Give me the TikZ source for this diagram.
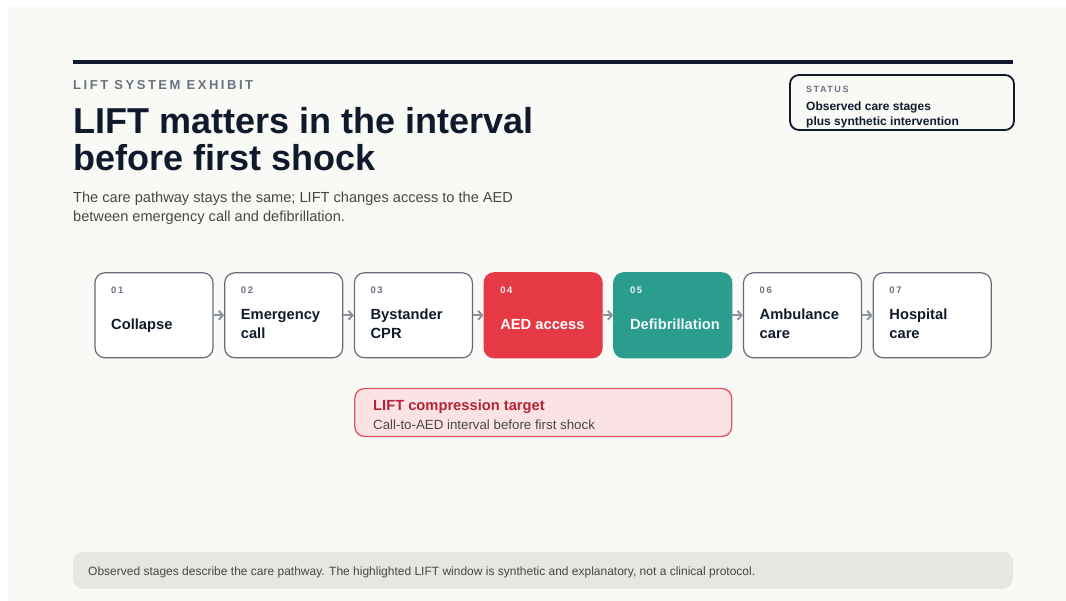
\documentclass[tikz,border=0pt]{standalone}
\usepackage{fontspec}
\setmainfont{Liberation Sans}
\newfontfamily\spacedfont[LetterSpace=17]{Liberation Sans}
\newfontfamily\widefont[LetterSpace=19.5]{Liberation Sans}
\usetikzlibrary{arrows.meta}
\definecolor{pagebg}{HTML}{F9F9F5}
\definecolor{navy}{HTML}{0F1B2D}
\definecolor{labelgray}{HTML}{6B7280}
\definecolor{boxgray}{HTML}{666C7A}
\definecolor{arrowgray}{HTML}{8E949E}
\definecolor{aedred}{HTML}{E63946}
\definecolor{defibteal}{HTML}{2A9D8F}
\definecolor{paletext}{HTML}{EEF6F4}
\definecolor{pinkfill}{HTML}{FBE3E5}
\definecolor{pinkline}{HTML}{E35462}
\definecolor{crimson}{HTML}{B42334}
\definecolor{bodygray}{HTML}{474747}
\definecolor{footfill}{HTML}{E7E6E1}
\begin{document}
\begin{tikzpicture}
[x=1pt,y=-1pt,
 stagedecorate/.style={shape=rectangle,rounded corners=10pt,inner sep=0pt,
   minimum width=118pt,minimum height=85pt,line width=1.2pt},%
 numdecorate/.style={anchor=base west,inner sep=0pt,
   font=\spacedfont\bfseries\fontsize{9.5}{11}\selectfont},%
 namedecorate/.style={anchor=base west,inner sep=0pt,align=left,
   font=\bfseries\fontsize{14.7}{18.5}\selectfont},%
 textdecorate/.style={anchor=base west,inner sep=0pt,align=left},%
 linedecorate/.style={-{Straight Barb[length=4pt,width=9pt]},line width=2pt,draw=arrowgray}]
\useasboundingbox (0,0) rectangle (1066,601);
\fill[pagebg] (8,7) rectangle (1066,601);
%% header (base of a wrapped text = its last line)
\fill[navy] (73,60) rectangle (1013,64);
\node (kicker) at (73,89.5) [textdecorate,text=labelgray,
  font=\widefont\bfseries\fontsize{13}{15}\selectfont] {LIFT SYSTEM EXHIBIT};
\node (title) at (73,170.5) [textdecorate,text=navy,
  font=\bfseries\fontsize{36}{36.5}\selectfont] {LIFT matters in the interval\\before first shock};
\node (intro) at (73,222) [textdecorate,text=bodygray,
  font=\fontsize{14.6}{19.4}\selectfont] {The care pathway stays the same; LIFT changes access to the AED\\between emergency call and defibrillation.};
%% status
\node (status) at (902,102.5) [shape=rectangle,rounded corners=9pt,draw=navy,line width=1.8pt,
  minimum width=224pt,minimum height=55pt] {};
\node (statuskey) at (806,93) [textdecorate,text=labelgray,
  font=\spacedfont\bfseries\fontsize{9}{11}\selectfont] {STATUS};
\node (statustext) at (806,125.3) [textdecorate,text=navy,
  font=\bfseries\fontsize{12}{14.3}\selectfont] {Observed care stages\\plus synthetic intervention};
%% stages
\foreach \nodename/\x/\num/\fillcol/\drawcol/\textcol/\numcol/\y/\label in
 {Collapse/95/01/white/boxgray/navy/labelgray/330/Collapse,
  Call/224.7/02/white/boxgray/navy/labelgray/338.5/{Emergency\\call},
  CPR/354.4/03/white/boxgray/navy/labelgray/338.5/{Bystander\\CPR},
  AED/484.1/04/aedred/aedred/white/paletext/330/AED access,
  Defib/613.8/05/defibteal/defibteal/paletext/paletext/330/Defibrillation,
  Ambulance/743.5/06/white/boxgray/navy/labelgray/338.5/{Ambulance\\care},
  Hospital/873.2/07/white/boxgray/navy/labelgray/338.5/{Hospital\\care}}
{
  \node (\nodename) at (\x+59,315.3) [stagedecorate,fill=\fillcol,draw=\drawcol] {};
  \node (\nodename num) at (\x+16,293.5) [numdecorate,text=\numcol] {\num};
  \node (\nodename txt) at (\x+16,\y) [namedecorate,text=\textcol] {\label};
}
\path
\foreach \startnode/\endnode in {Collapse/Call, Call/CPR, CPR/AED,
 AED/Defib, Defib/Ambulance, Ambulance/Hospital}
{
  (\startnode) edge[linedecorate] (\endnode)
};
%% target window
\node (target) at (543.3,412.5) [shape=rectangle,rounded corners=10pt,fill=pinkfill,
  draw=pinkline,line width=1.3pt,minimum width=377pt,minimum height=48pt] {};
\node (targettitle) at (373,410.3) [textdecorate,text=crimson,
  font=\bfseries\fontsize{14.7}{16}\selectfont] {LIFT compression target};
\node (targettext) at (373,429.3) [textdecorate,text=bodygray,
  font=\fontsize{13.3}{15}\selectfont] {Call-to-AED interval before first shock};
%% footer
\node (footer) at (543,570.3) [shape=rectangle,rounded corners=10pt,fill=footfill,
  minimum width=940pt,minimum height=37pt] {};
\node (footnote) at (88,575) [textdecorate,text=bodygray,
  font=\fontsize{12}{14}\selectfont] {Observed stages describe the care pathway. The highlighted LIFT window is synthetic and explanatory, not a clinical protocol.};
\end{tikzpicture}
\end{document}
